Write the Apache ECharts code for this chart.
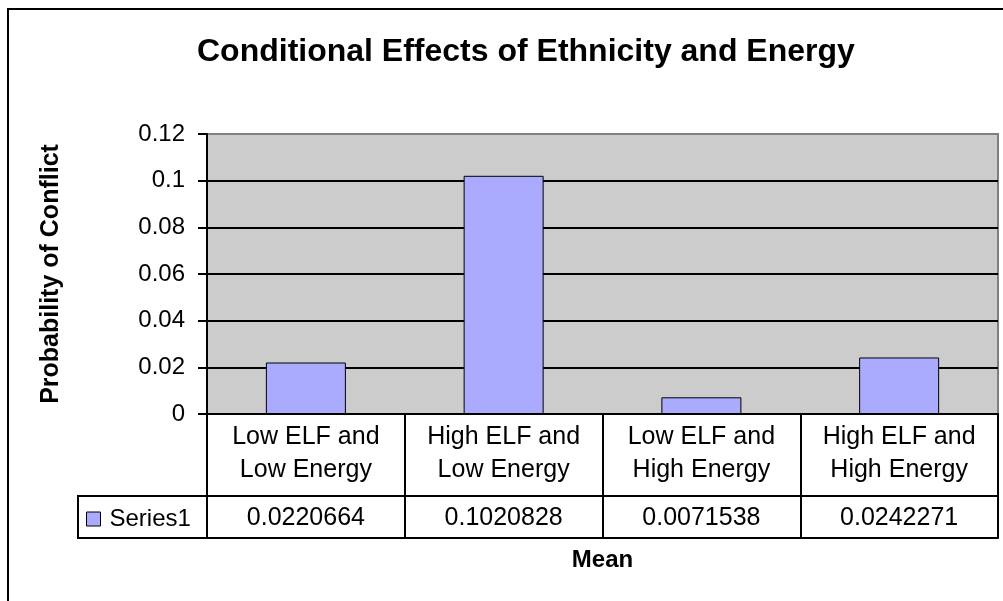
<!DOCTYPE html>
<html>
<head>
<meta charset="utf-8">
<script src="https://cdn.jsdelivr.net/npm/echarts@6/dist/echarts.min.js"></script>
<style>
  html, body { margin: 0; padding: 0; background: #ffffff; }
  #main { width: 1003px; height: 601px; }
</style>
</head>
<body>
<div id="main"></div>
<script>
// categories (two-line labels as in the data table)
const categories = [
  'Low ELF and\nLow Energy',
  'High ELF and\nLow Energy',
  'Low ELF and\nHigh Energy',
  'High ELF and\nHigh Energy'
]
const meanValues = [0.0220664, 0.1020828, 0.0071538, 0.0242271]
const seriesName = 'Series1'
const yTicks = { min: 0, max: 0.12, interval: 0.02 }

const font = "'Liberation Sans', Arial, sans-serif"
const barColor = '#aaaaff'

const chart = echarts.init(document.getElementById('main'))

const options = {
  backgroundColor: '#ffffff',
  animation: false,
  title: {
    text: 'Conditional Effects of Ethnicity and Energy',
    left: 192,
    top: 31,
    textStyle: {
      fontFamily: font,
      fontSize: 32,
      fontWeight: 'bold',
      color: '#000'
    }
  },
  legend: {
    data: [seriesName],
    left: 86,
    top: 507,
    padding: 0,
    itemWidth: 14,
    itemHeight: 14,
    icon: 'rect',
    itemStyle: { borderColor: '#000', borderWidth: 1 },
    textStyle: { fontFamily: font, fontSize: 24, color: '#000', padding: [0, 0, 0, 4] }
  },
  graphic: [
    // outer chart frame
    {
      type: 'rect',
      shape: { x: 8, y: 9, width: 1100, height: 700 },
      style: { fill: 'none', stroke: '#000', lineWidth: 2 },
      silent: true
    },
    // legend cell of the data table
    {
      type: 'rect',
      shape: { x: 78, y: 496, width: 129, height: 42 },
      style: { fill: 'none', stroke: '#000', lineWidth: 2 },
      silent: true
    }
  ],
  grid: [
    {
      left: 207,
      right: 5,
      top: 134,
      bottom: 187,
      show: true,
      backgroundColor: '#cccccc',
      borderColor: '#808080',
      borderWidth: 2
    },
    {
      left: 207,
      right: 5,
      top: 496,
      height: 42,
      show: false
    }
  ],
  xAxis: [
    {
      // category row of the data table
      type: 'category',
      gridIndex: 0,
      data: categories,
      axisLine: { show: true, onZero: false, lineStyle: { color: '#000', width: 2 } },
      axisTick: { show: true, interval: 0, length: 82, lineStyle: { color: '#000', width: 2 } },
      axisLabel: {
        margin: 7,
        fontFamily: font,
        fontSize: 25,
        lineHeight: 33,
        color: '#000',
        interval: 0
      }
    },
    {
      // value row: top line
      type: 'category',
      gridIndex: 1,
      position: 'top',
      data: categories,
      axisLine: { show: true, onZero: false, lineStyle: { color: '#000', width: 2 } },
      axisTick: { show: false },
      axisLabel: { show: false }
    },
    {
      // value row: bottom line, cell dividers and values
      type: 'category',
      gridIndex: 1,
      position: 'bottom',
      data: categories,
      axisLine: { show: true, onZero: false, lineStyle: { color: '#000', width: 2 } },
      axisTick: { show: true, interval: 0, inside: true, length: 42, lineStyle: { color: '#000', width: 2 } },
      axisLabel: {
        inside: true,
        margin: 7,
        interval: 0,
        fontFamily: font,
        fontSize: 25,
        color: '#000',
        formatter: function (value, index) {
          return String(meanValues[index])
        }
      },
      name: 'Mean',
      nameLocation: 'middle',
      nameGap: 10,
      nameTextStyle: {
        fontFamily: font,
        fontSize: 24,
        fontWeight: 'bold',
        color: '#000'
      }
    }
  ],
  yAxis: [
    {
      type: 'value',
      gridIndex: 0,
      min: yTicks.min,
      max: yTicks.max,
      interval: yTicks.interval,
      name: 'Probability of Conflict',
      nameLocation: 'middle',
      nameGap: 143,
      nameRotate: 90,
      nameTextStyle: {
        fontFamily: font,
        fontSize: 25,
        fontWeight: 'bold',
        color: '#000'
      },
      axisLine: { show: true, lineStyle: { color: '#000', width: 2 } },
      axisTick: { show: true, length: 9, lineStyle: { color: '#000', width: 2 } },
      axisLabel: {
        margin: 22,
        fontFamily: font,
        fontSize: 24,
        color: '#000'
      },
      splitLine: {
        lineStyle: {
          color: ['#000', '#000', '#000', '#000', '#000', '#000', '#808080'],
          width: 2
        }
      }
    },
    {
      type: 'value',
      gridIndex: 1,
      show: false
    }
  ],
  series: [
    {
      name: seriesName,
      type: 'bar',
      xAxisIndex: 0,
      yAxisIndex: 0,
      data: meanValues,
      barWidth: 80,
      itemStyle: {
        color: barColor,
        borderColor: '#000',
        borderWidth: 1
      }
    }
  ]
}

chart.setOption(options)
</script>
</body>
</html>
